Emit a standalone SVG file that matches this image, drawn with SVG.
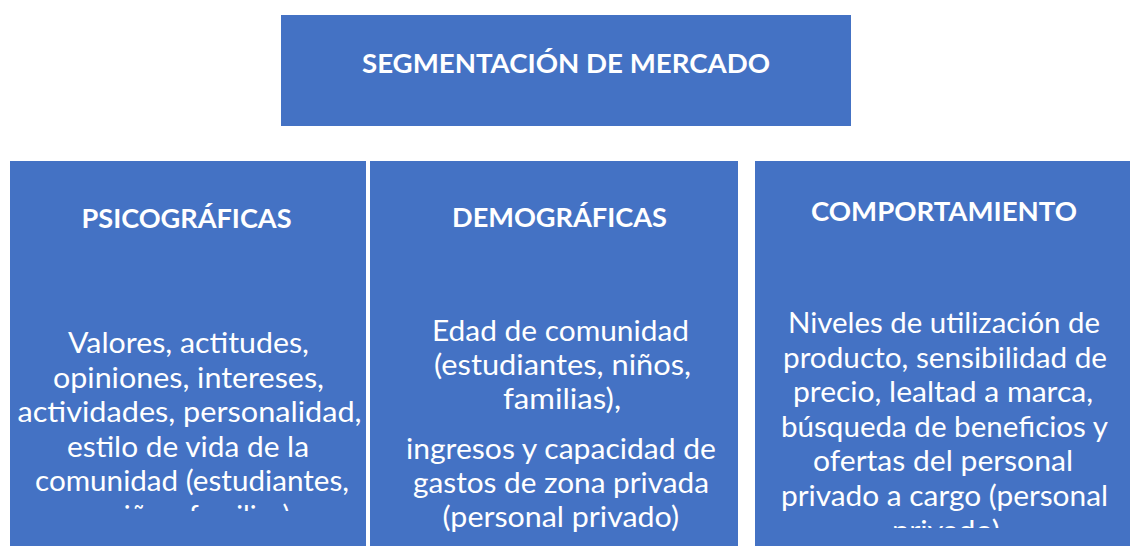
<svg xmlns="http://www.w3.org/2000/svg" width="1130" height="546" viewBox="0 0 1130 546">
  <style>
    .box { fill: #4472C4; }
    .title { font-family: Lato, "Open Sans", sans-serif; font-weight: bold; font-size: 27px; fill: #ffffff; }
    .body { font-family: Lato, "Open Sans", sans-serif; font-size: 28px; fill: #ffffff; }
  </style>
  <defs>
    <clipPath id="clipLeft"><rect x="10" y="161" width="356" height="350"/></clipPath>
    <clipPath id="clipRight"><rect x="755" y="161" width="375" height="367"/></clipPath>
  </defs>
  <rect width="1130" height="546" fill="#ffffff"/>

  <g id="node-segmentacion">
    <rect class="box" x="281" y="15" width="570" height="111"/>
    <text class="title" x="362" y="73" textLength="408" lengthAdjust="spacingAndGlyphs">SEGMENTACIÓN DE MERCADO</text>
  </g>

  <g id="node-psicograficas">
    <rect class="box" x="10" y="161" width="356" height="385"/>
    <text class="title" x="81.5" y="228" textLength="210" lengthAdjust="spacingAndGlyphs">PSICOGRÁFICAS</text>
    <g clip-path="url(#clipLeft)">
      <text class="body" x="68" y="353" textLength="241" lengthAdjust="spacingAndGlyphs">Valores, actitudes,</text>
      <text class="body" x="53" y="387.5" textLength="271" lengthAdjust="spacingAndGlyphs">opiniones, intereses,</text>
      <text class="body" x="17.5" y="422" textLength="344" lengthAdjust="spacingAndGlyphs">actividades, personalidad,</text>
      <text class="body" x="67" y="456.5" textLength="242" lengthAdjust="spacingAndGlyphs">estilo de vida de la</text>
      <text class="body" x="35" y="491" textLength="314" lengthAdjust="spacingAndGlyphs">comunidad (estudiantes,</text>
      <text class="body" x="108" y="525.5" textLength="182" lengthAdjust="spacingAndGlyphs">niños, familias)</text>
    </g>
  </g>

  <g id="node-demograficas">
    <rect class="box" x="370" y="161" width="368" height="385"/>
    <text class="title" x="452" y="227" textLength="215" lengthAdjust="spacingAndGlyphs">DEMOGRÁFICAS</text>
    <text class="body" x="432" y="341" textLength="257" lengthAdjust="spacingAndGlyphs">Edad de comunidad</text>
    <text class="body" x="434" y="375" textLength="257" lengthAdjust="spacingAndGlyphs">(estudiantes, niños,</text>
    <text class="body" x="503" y="409" textLength="118" lengthAdjust="spacingAndGlyphs">familias),</text>
    <text class="body" x="406" y="459" textLength="310" lengthAdjust="spacingAndGlyphs">ingresos y capacidad de</text>
    <text class="body" x="413" y="493" textLength="296" lengthAdjust="spacingAndGlyphs">gastos de zona privada</text>
    <text class="body" x="442.5" y="527" textLength="236.5" lengthAdjust="spacingAndGlyphs">(personal privado)</text>
  </g>

  <g id="node-comportamiento">
    <rect class="box" x="755" y="161" width="375" height="385"/>
    <text class="title" x="811" y="221" textLength="266" lengthAdjust="spacingAndGlyphs">COMPORTAMIENTO</text>
    <g clip-path="url(#clipRight)">
      <text class="body" x="788" y="333" textLength="312" lengthAdjust="spacingAndGlyphs">Niveles de utilización de</text>
      <text class="body" x="783" y="367.6" textLength="324" lengthAdjust="spacingAndGlyphs">producto, sensibilidad de</text>
      <text class="body" x="793" y="402.2" textLength="300" lengthAdjust="spacingAndGlyphs">precio, lealtad a marca,</text>
      <text class="body" x="781" y="436.8" textLength="327" lengthAdjust="spacingAndGlyphs">búsqueda de beneficios y</text>
      <text class="body" x="813" y="471.4" textLength="260" lengthAdjust="spacingAndGlyphs">ofertas del personal</text>
      <text class="body" x="781" y="506" textLength="327" lengthAdjust="spacingAndGlyphs">privado a cargo (personal</text>
      <text class="body" x="892" y="540.6" textLength="108" lengthAdjust="spacingAndGlyphs">privado)</text>
    </g>
  </g>

  <g id="connectors"></g>
</svg>
